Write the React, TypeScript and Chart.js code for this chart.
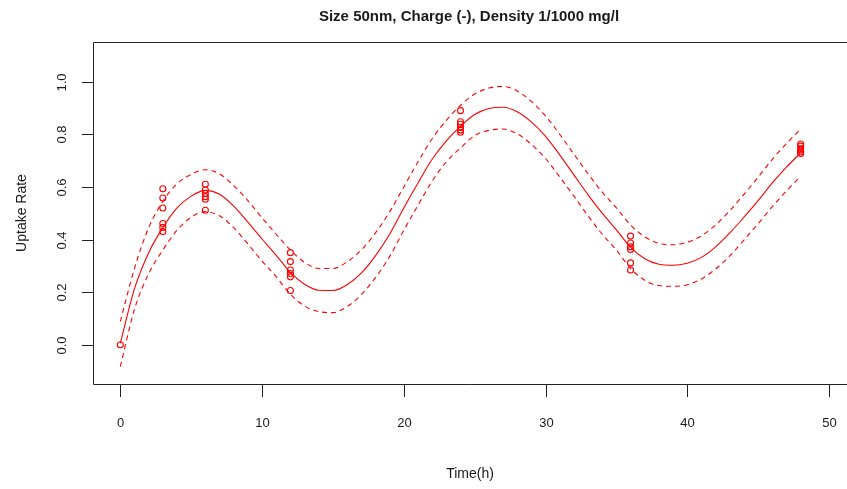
import React, { useEffect, useRef } from "react";
import { Chart, registerables } from "chart.js";

Chart.register(...registerables);

const titleText = "Size 50nm, Charge (-), Density 1/1000 mg/l";
const xAxisTitle = "Time(h)";
const yAxisTitle = "Uptake Rate";
const xTickValues = [0, 10, 20, 30, 40, 50];
const yTickValues = [0, 0.2, 0.4, 0.6, 0.8, 1.0];

const obsTime = [
  0,
  3, 3, 3, 3, 3, 3,
  6, 6, 6, 6, 6, 6,
  12, 12, 12, 12, 12, 12,
  24, 24, 24, 24, 24, 24,
  36, 36, 36, 36, 36, 36,
  48, 48, 48, 48, 48, 48,
];
const obsUptake = [
  0,
  0.593, 0.558, 0.52, 0.461, 0.446, 0.43,
  0.61, 0.588, 0.575, 0.563, 0.553, 0.511,
  0.35, 0.316, 0.284, 0.271, 0.258, 0.206,
  0.89, 0.848, 0.838, 0.826, 0.816, 0.808,
  0.413, 0.387, 0.372, 0.362, 0.311, 0.284,
  0.763, 0.755, 0.746, 0.74, 0.733, 0.727,
];

const fitTime = [
  0, 1, 2, 3, 4, 5, 6, 7, 8, 9, 10, 11, 12, 13, 14, 15, 16, 17, 18, 19, 20,
  21, 22, 23, 24, 25, 26, 27, 28, 29, 30, 31, 32, 33, 34, 35, 36, 37, 38, 39,
  40, 41, 42, 43, 44, 45, 46, 47, 48,
];
const fitMean = [
  0.005, 0.213, 0.35, 0.445, 0.52, 0.565, 0.587, 0.572, 0.527, 0.466, 0.402,
  0.34, 0.275, 0.23, 0.207, 0.206, 0.228, 0.272, 0.338, 0.42, 0.52,
  0.615, 0.705, 0.775, 0.83, 0.875, 0.898, 0.903, 0.886, 0.847, 0.792,
  0.722, 0.646, 0.57, 0.5, 0.437, 0.37, 0.327, 0.306, 0.302,
  0.31, 0.332, 0.372, 0.425, 0.485, 0.548, 0.615, 0.675, 0.73,
];
const fitUpper = [
  0.088, 0.29, 0.445, 0.545, 0.612, 0.648, 0.665, 0.65, 0.605, 0.548, 0.482,
  0.42, 0.36, 0.313, 0.29, 0.29, 0.315, 0.36, 0.425, 0.505, 0.6,
  0.695, 0.783, 0.853, 0.91, 0.953, 0.976, 0.982, 0.965, 0.925, 0.87,
  0.8, 0.725, 0.65, 0.58, 0.52, 0.455, 0.41, 0.385, 0.38,
  0.39, 0.414, 0.455, 0.51, 0.572, 0.637, 0.705, 0.765, 0.82,
];
const fitLower = [
  -0.083, 0.135, 0.27, 0.36, 0.435, 0.485, 0.506, 0.49, 0.445, 0.383, 0.318,
  0.258, 0.192, 0.147, 0.126, 0.122, 0.145, 0.19, 0.255, 0.335, 0.435,
  0.53, 0.622, 0.695, 0.748, 0.795, 0.815, 0.82, 0.802, 0.762, 0.708,
  0.638, 0.565, 0.49, 0.42, 0.36, 0.29, 0.245, 0.225, 0.222,
  0.228, 0.25, 0.288, 0.338, 0.398, 0.46, 0.525, 0.585, 0.64,
];

const RED = "#ff0000";
const AXIS = "#222222";
const TEXT = "#1a1a1a";
const FONT = '"Liberation Sans", Arial, sans-serif';

const rAxesPlugin = {
  id: "rAxes",
  afterDraw(chart: any) {
    const { ctx, chartArea: a } = chart;
    const xs = chart.scales.x;
    const ys = chart.scales.y;
    ctx.save();
    ctx.strokeStyle = AXIS;
    ctx.lineWidth = 1;
    // box (right side lies outside the canvas)
    ctx.beginPath();
    ctx.moveTo(chart.width, a.top + 0.5);
    ctx.lineTo(a.left + 0.5, a.top + 0.5);
    ctx.lineTo(a.left + 0.5, a.bottom + 0.5);
    ctx.lineTo(chart.width, a.bottom + 0.5);
    ctx.stroke();

    ctx.fillStyle = TEXT;
    ctx.font = `13px ${FONT}`;
    ctx.textAlign = "center";
    ctx.textBaseline = "middle";
    // x ticks
    xTickValues.forEach((v) => {
      const px = Math.round(xs.getPixelForValue(v)) + 0.5;
      ctx.beginPath();
      ctx.moveTo(px, a.bottom);
      ctx.lineTo(px, a.bottom + 13);
      ctx.stroke();
      ctx.fillText(String(v), px, 423);
    });
    // y ticks
    yTickValues.forEach((v) => {
      const py = Math.round(ys.getPixelForValue(v)) + 0.5;
      ctx.beginPath();
      ctx.moveTo(a.left, py);
      ctx.lineTo(a.left - 11, py);
      ctx.stroke();
      ctx.save();
      ctx.translate(62, py);
      ctx.rotate(-Math.PI / 2);
      ctx.fillText(v.toFixed(1), 0, 0);
      ctx.restore();
    });
    // axis titles
    ctx.font = `14px ${FONT}`;
    ctx.fillText(xAxisTitle, 470, 474);
    ctx.save();
    ctx.translate(22, 213);
    ctx.rotate(-Math.PI / 2);
    ctx.fillText(yAxisTitle, 0, 0);
    ctx.restore();
    // main title
    ctx.font = `bold 15px ${FONT}`;
    ctx.fillText(titleText, 469, 17);
    ctx.restore();
  },
};

export default function App() {
  const canvasRef = useRef<HTMLCanvasElement | null>(null);

  useEffect(() => {
    const canvas = canvasRef.current;
    if (!canvas) return;
    const toPts = (xsArr: number[], ysArr: number[]) =>
      xsArr.map((x, i) => ({ x, y: ysArr[i] }));
    const lineDs = (label: string, vals: number[], dashed: boolean) => ({
      label,
      data: toPts(fitTime, vals),
      showLine: true,
      borderColor: RED,
      backgroundColor: RED,
      borderWidth: 1.1,
      borderDash: dashed ? [5, 4] : [],
      pointRadius: 0,
      pointHoverRadius: 0,
      cubicInterpolationMode: "monotone" as const,
      fill: false,
    });
    const chart = new Chart(canvas, {
      type: "scatter",
      data: {
        datasets: [
          lineDs("Fit", fitMean, false),
          lineDs("Upper", fitUpper, true),
          lineDs("Lower", fitLower, true),
          {
            label: "Observed",
            data: toPts(obsTime, obsUptake),
            showLine: false,
            pointStyle: "circle",
            pointRadius: 3,
            pointBorderWidth: 1.1,
            pointBorderColor: RED,
            pointBackgroundColor: "rgba(0,0,0,0)",
            borderColor: RED,
            backgroundColor: "rgba(0,0,0,0)",
          } as any,
        ],
      },
      options: {
        responsive: false,
        animation: false,
        devicePixelRatio: 1,
        layout: { padding: { left: 93, top: 42, bottom: 105, right: 0 } },
        plugins: {
          legend: { display: false },
          title: { display: false },
          tooltip: { enabled: false },
        },
        scales: {
          x: { type: "linear", display: false, min: -1.927, max: 50.91 },
          y: { type: "linear", display: false, min: -0.1494, max: 1.151 },
        },
      },
      plugins: [rAxesPlugin],
    });
    return () => chart.destroy();
  }, []);

  return (
    <div
      style={{
        position: "fixed",
        left: 0,
        top: 0,
        width: 847,
        height: 489,
        background: "#ffffff",
      }}
    >
      <canvas ref={canvasRef} width={847} height={489} />
    </div>
  );
}
